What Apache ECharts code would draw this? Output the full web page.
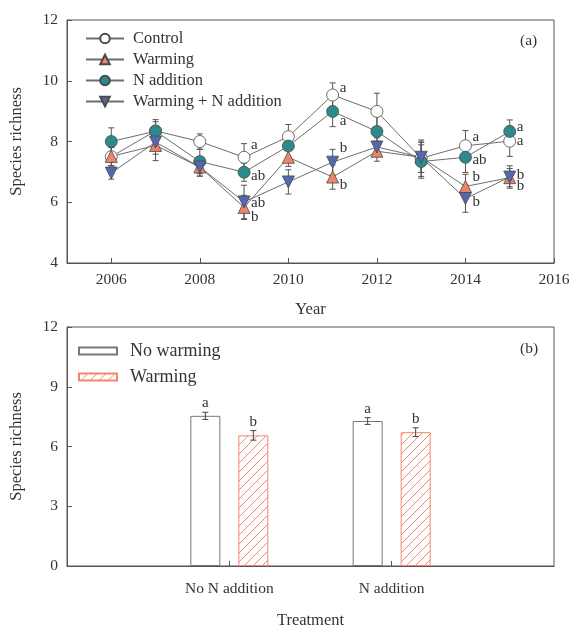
<!DOCTYPE html>
<html>
<head>
<meta charset="utf-8">
<script src="https://cdn.jsdelivr.net/npm/echarts@6/dist/echarts.min.js"></script>
<style>html,body{margin:0;padding:0;background:#fff}#c{width:573px;height:630px}</style>
</head>
<body>
<div id="c"></div>
<script>
// ---------- DATA ----------
const years = [2006, 2007, 2008, 2009, 2010, 2011, 2012, 2013, 2014, 2015];
const yearTicks = [2006, 2008, 2010, 2012, 2014, 2016];
const control   = [7.50, 8.35, 8.00, 7.48, 8.16, 9.53, 8.99, 7.45, 7.86, 8.01];
const warming   = [7.51, 7.87, 7.16, 5.83, 7.48, 6.83, 7.68, 7.48, 6.52, 6.81];
const nAddition = [8.00, 8.34, 7.34, 6.99, 7.85, 8.99, 8.33, 7.34, 7.48, 8.33];
const warmingN  = [6.96, 7.98, 7.16, 6.01, 6.67, 7.32, 7.82, 7.48, 6.12, 6.83];
const controlErr   = [0.30, 0.30, 0.25, 0.45, 0.40, 0.40, 0.60, 0.60, 0.50, 0.50];
const warmingErr   = [0.30, 0.50, 0.30, 0.40, 0.30, 0.40, 0.33, 0.50, 0.40, 0.30];
const nAdditionErr = [0.45, 0.38, 0.40, 0.30, 0.40, 0.50, 0.50, 0.55, 0.50, 0.38];
const warmingNErr  = [0.20, 0.40, 0.30, 0.55, 0.40, 0.42, 0.30, 0.50, 0.45, 0.37];
const controlSig   = ['', '', '', 'a',  '', 'a', '', '', 'a',  'a'];
const warmingSig   = ['', '', '', 'b',  '', 'b', '', '', 'b',  'b'];
const nAdditionSig = ['', '', '', 'ab', '', 'a', '', '', 'ab', 'a'];
const warmingNSig  = ['', '', '', 'ab', '', 'b', '', '', 'b',  'b'];

const treatments = ['No N addition', 'N addition'];
const treatmentPos = [1, 2];
const noWarmingBar = [7.54, 7.28];
const warmingBar   = [6.56, 6.72];
const noWarmingBarErr = [0.18, 0.17];
const warmingBarErr   = [0.24, 0.22];
const noWarmingBarSig = ['a', 'a'];
const warmingBarSig   = ['b', 'b'];

// ---------- STYLE ----------
const FONT = 'Liberation Serif';
const TXT = '#333';
const AX = '#555';
const lineGray = '#6e6e6e';
// vertical pixel offsets for significance letters (rendering only)
const sigDy = {
  Control:   {2009: -12, 2011: -7,  2014: -9, 2015: 0},
  Warming:   {2009: 10,  2011: 8,   2014: -9, 2015: 8},
  NAdd:      {2009: 4,   2011: 10,  2014: 3,  2015: -4},
  WarmingN:  {2009: 1,   2011: -14, 2014: 3,  2015: -2}
};

// hatch pattern
const hc = document.createElement('canvas');
hc.width = 9; hc.height = 9;
const hx = hc.getContext('2d');
hx.fillStyle = '#fff'; hx.fillRect(0, 0, 9, 9);
hx.strokeStyle = '#f4866f'; hx.lineWidth = 1;
hx.beginPath();
hx.moveTo(0, 9); hx.lineTo(9, 0);
hx.moveTo(-1, 1); hx.lineTo(1, -1);
hx.moveTo(8, 10); hx.lineTo(10, 8);
hx.stroke();
const hatch = {image: hc, repeat: 'repeat'};

const chart = echarts.init(document.getElementById('c'), null, {renderer: 'canvas'});

function pairs(ys) { return years.map((y, i) => [y, ys[i]]); }
function errData(ys, es) { return years.map((y, i) => [y, ys[i], es[i]]); }

function errSeries(ys, es, xIdx, yIdx, dxPx) {
  return {
    type: 'custom', xAxisIndex: xIdx, yAxisIndex: yIdx, z: 1, silent: true,
    data: errData(ys, es), encode: {x: 0, y: 1},
    renderItem: function (params, api) {
      const x = api.value(0), y = api.value(1), e = api.value(2);
      const top = api.coord([x, y + e]), bot = api.coord([x, y - e]);
      const cx = top[0] + (dxPx || 0);
      const w = 3;
      const st = {stroke: '#555', lineWidth: 1};
      return {type: 'group', children: [
        {type: 'line', shape: {x1: cx, y1: top[1], x2: cx, y2: bot[1]}, style: st},
        {type: 'line', shape: {x1: cx - w, y1: top[1], x2: cx + w, y2: top[1]}, style: st},
        {type: 'line', shape: {x1: cx - w, y1: bot[1], x2: cx + w, y2: bot[1]}, style: st}
      ]};
    }
  };
}

function sigSeries(ys, sig, key) {
  const rows = [], texts = [];
  years.forEach((y, i) => { if (sig[i]) { rows.push([y, ys[i]]); texts.push(sig[i]); } });
  return {
    type: 'custom', xAxisIndex: 0, yAxisIndex: 0, z: 5, silent: true,
    data: rows, encode: {x: 0, y: 1},
    renderItem: function (params, api) {
      const x = api.value(0), y = api.value(1);
      const p = api.coord([x, y]);
      const dy = (sigDy[key] && sigDy[key][x]) || 0;
      return {type: 'text', x: p[0] + 7, y: p[1] + dy,
        style: {text: texts[params.dataIndex], font: '15px "' + FONT + '"', fill: TXT,
                textAlign: 'left', textVerticalAlign: 'middle'}};
    }
  };
}

function lineSeries(name, ys, symbol, fill, rotate) {
  return {
    name: name, type: 'line', xAxisIndex: 0, yAxisIndex: 0, z: 3,
    data: pairs(ys), symbol: symbol, symbolSize: 12, symbolRotate: rotate || 0,
    showAllSymbol: true,
    lineStyle: {color: lineGray, width: 1},
    itemStyle: {color: fill, borderColor: '#4a4a4a', borderWidth: 0.8},
    emphasis: {disabled: true}
  };
}

function barErrSeries(xs, ys, es, dxPx) {
  return {
    type: 'custom', xAxisIndex: 1, yAxisIndex: 1, z: 4, silent: true,
    data: xs.map((x, i) => [x, ys[i], es[i]]), encode: {x: 0, y: 1},
    renderItem: function (params, api) {
      const x = api.value(0), y = api.value(1), e = api.value(2);
      const top = api.coord([x, y + e]), bot = api.coord([x, y - e]);
      const cx = top[0] + dxPx, w = 3;
      const st = {stroke: '#444', lineWidth: 1};
      return {type: 'group', children: [
        {type: 'line', shape: {x1: cx, y1: top[1], x2: cx, y2: bot[1]}, style: st},
        {type: 'line', shape: {x1: cx - w, y1: top[1], x2: cx + w, y2: top[1]}, style: st},
        {type: 'line', shape: {x1: cx - w, y1: bot[1], x2: cx + w, y2: bot[1]}, style: st}
      ]};
    }
  };
}

function barSigSeries(xs, ys, es, sig, dxPx) {
  return {
    type: 'custom', xAxisIndex: 1, yAxisIndex: 1, z: 5, silent: true,
    data: xs.map((x, i) => [x, ys[i] + es[i]]), encode: {x: 0, y: 1},
    renderItem: function (params, api) {
      const p = api.coord([api.value(0), api.value(1)]);
      return {type: 'text', x: p[0] + dxPx, y: p[1] - 9,
        style: {text: sig[params.dataIndex], font: '15px "' + FONT + '"', fill: TXT,
                textAlign: 'center', textVerticalAlign: 'middle'}};
    }
  };
}

const axisText = {fontFamily: FONT, fontSize: 15.5, color: TXT};
const nameText = {fontFamily: FONT, fontSize: 16.5, color: TXT};

const option = {
  animation: false,
  backgroundColor: '#fff',
  textStyle: {fontFamily: FONT},
  grid: [
    {left: 67, top: 20, width: 487, height: 243, show: true, borderColor: AX, borderWidth: 1},
    {left: 67, top: 327, width: 487, height: 244, show: true, borderColor: AX, borderWidth: 1}
  ],
  legend: [
    {
      data: ['Control', 'Warming', 'N addition', 'Warming + N addition'],
      orient: 'vertical', left: 80, top: 25, itemWidth: 38, itemHeight: 12, itemGap: 4,
      textStyle: {fontFamily: FONT, fontSize: 16.5, color: TXT, padding: [0, 0, 0, 4]},
      selectedMode: false
    },
    {
      data: ['No warming', 'Warming '],
      orient: 'vertical', left: 73, top: 337, itemWidth: 38, itemHeight: 7, itemGap: 8,
      icon: 'rect',
      textStyle: {fontFamily: FONT, fontSize: 18, color: TXT, padding: [0, 0, 0, 8]},
      selectedMode: false
    }
  ],
  graphic: [
    {type: 'text', left: 520, top: 33, style: {text: '(a)', font: '15.5px "' + FONT + '"', fill: TXT}},
    {type: 'text', left: 520, top: 341, style: {text: '(b)', font: '15.5px "' + FONT + '"', fill: TXT}}
  ],
  xAxis: [
    {
      type: 'value', gridIndex: 0, min: 2005, max: 2016,
      name: 'Year', nameLocation: 'middle', nameGap: 38,
      nameTextStyle: nameText,
      axisLine: {lineStyle: {color: AX}},
      axisTick: {inside: true, length: 5, lineStyle: {color: AX}, customValues: yearTicks},
      axisLabel: Object.assign({margin: 9, customValues: yearTicks, formatter: v => String(v)}, axisText),
      splitLine: {show: false}
    },
    {
      type: 'value', gridIndex: 1, min: 0, max: 3,
      name: 'Treatment', nameLocation: 'middle', nameGap: 46,
      nameTextStyle: nameText,
      axisLine: {lineStyle: {color: AX}},
      axisTick: {inside: true, length: 5, lineStyle: {color: AX}, customValues: treatmentPos},
      axisLabel: Object.assign({margin: 15, customValues: treatmentPos,
        formatter: v => treatments[treatmentPos.indexOf(v)] || ''}, axisText),
      splitLine: {show: false}
    }
  ],
  yAxis: [
    {
      type: 'value', gridIndex: 0, min: 4, max: 12, interval: 2,
      name: 'Species richness', nameLocation: 'middle', nameGap: 42,
      nameTextStyle: nameText,
      axisLine: {show: true, lineStyle: {color: AX}},
      axisTick: {show: true, inside: true, length: 5, lineStyle: {color: AX}},
      axisLabel: Object.assign({margin: 9}, axisText),
      splitLine: {show: false}
    },
    {
      type: 'value', gridIndex: 1, min: 0, max: 12, interval: 3,
      name: 'Species richness', nameLocation: 'middle', nameGap: 42,
      nameTextStyle: nameText,
      axisLine: {show: true, lineStyle: {color: AX}},
      axisTick: {show: true, inside: true, length: 5, lineStyle: {color: AX}},
      axisLabel: Object.assign({margin: 9}, axisText),
      splitLine: {show: false}
    }
  ],
  series: [
    errSeries(control, controlErr, 0, 0),
    errSeries(warming, warmingErr, 0, 0),
    errSeries(nAddition, nAdditionErr, 0, 0),
    errSeries(warmingN, warmingNErr, 0, 0),
    lineSeries('Control', control, 'circle', '#ffffff'),
    lineSeries('Warming', warming, 'triangle', '#f08468'),
    lineSeries('N addition', nAddition, 'circle', '#2a8a8c'),
    lineSeries('Warming + N addition', warmingN, 'triangle', '#5566b3', 180),
    sigSeries(control, controlSig, 'Control'),
    sigSeries(warming, warmingSig, 'Warming'),
    sigSeries(nAddition, nAdditionSig, 'NAdd'),
    sigSeries(warmingN, warmingNSig, 'WarmingN'),
    {
      name: 'No warming', type: 'bar', xAxisIndex: 1, yAxisIndex: 1,
      data: treatmentPos.map((x, i) => [x, noWarmingBar[i]]),
      barWidth: 30, barGap: '60%',
      itemStyle: {color: '#ffffff', borderColor: '#777', borderWidth: 1},
      emphasis: {disabled: true}
    },
    {
      name: 'Warming ', type: 'bar', xAxisIndex: 1, yAxisIndex: 1,
      data: treatmentPos.map((x, i) => [x, warmingBar[i]]),
      barWidth: 30, barGap: '60%',
      itemStyle: {color: hatch, borderColor: '#f4866f', borderWidth: 1},
      emphasis: {disabled: true}
    },
    barErrSeries(treatmentPos, noWarmingBar, noWarmingBarErr, -24),
    barErrSeries(treatmentPos, warmingBar, warmingBarErr, 24),
    barSigSeries(treatmentPos, noWarmingBar, noWarmingBarErr, noWarmingBarSig, -24),
    barSigSeries(treatmentPos, warmingBar, warmingBarErr, warmingBarSig, 24)
  ]
};
chart.setOption(option);
</script>
</body>
</html>
